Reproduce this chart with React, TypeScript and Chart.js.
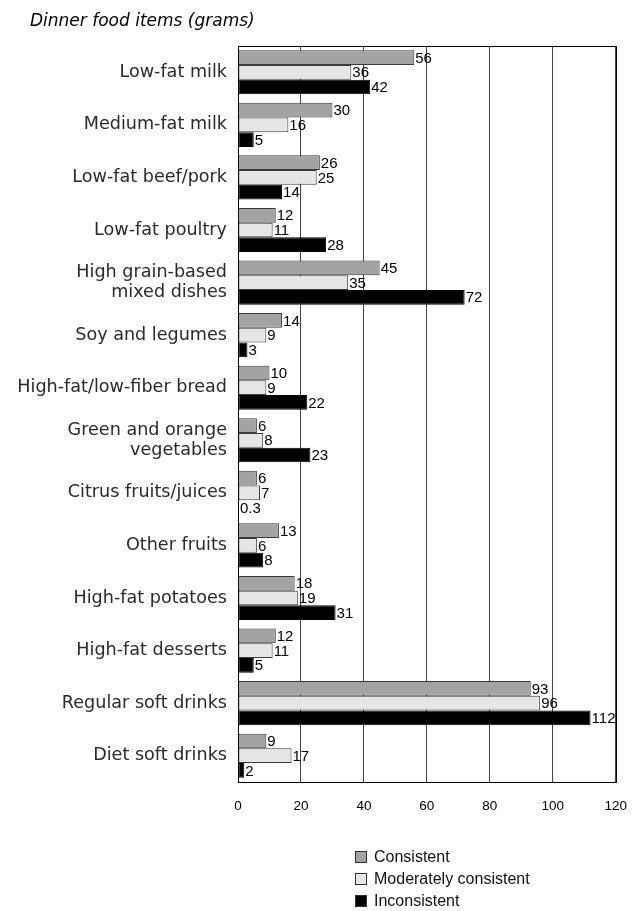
import { useEffect, useRef } from "react";
import { Chart, registerables } from "chart.js";

Chart.register(...registerables);

const title = "Dinner food items (grams)";

const categories: (string | string[])[] = [
  "Low-fat milk",
  "Medium-fat milk",
  "Low-fat beef/pork",
  "Low-fat poultry",
  ["High grain-based", "mixed dishes"],
  "Soy and legumes",
  "High-fat/low-fiber bread",
  ["Green and orange", "vegetables"],
  "Citrus fruits/juices",
  "Other fruits",
  "High-fat potatoes",
  "High-fat desserts",
  "Regular soft drinks",
  "Diet soft drinks",
];

const seriesNames = ["Consistent", "Moderately consistent", "Inconsistent"];
const consistent = [56, 30, 26, 12, 45, 14, 10, 6, 6, 13, 18, 12, 93, 9];
const moderatelyConsistent = [36, 16, 25, 11, 35, 9, 9, 8, 7, 6, 19, 11, 96, 17];
const inconsistent = [42, 5, 14, 28, 72, 3, 22, 23, 0.3, 8, 31, 5, 112, 2];

const xMin = 0;
const xMax = 120;
const xStep = 20;

const fills = ["#a3a3a3", "#e6e6e6", "#000000"];
const edges = ["#3a3a3a", "#3a3a3a", "#000000"];

const NUM_FONT = "'Liberation Sans', Arial, sans-serif";
const LABEL_FONT = "'DejaVu Sans', sans-serif";

// Frame around the plotting area
const framePlugin = {
  id: "frame",
  beforeDatasetsDraw(chart: any) {
    const { ctx, chartArea: a } = chart;
    ctx.save();
    ctx.strokeStyle = "#000";
    ctx.lineWidth = 1;
    ctx.strokeRect(Math.round(a.left) + 0.5, Math.round(a.top) + 0.5, Math.round(a.right - a.left), Math.round(a.bottom - a.top));
    ctx.restore();
  },
};

// Numbers printed at the end of every bar
const valueLabelPlugin = {
  id: "valueLabels",
  afterDatasetsDraw(chart: any) {
    const { ctx } = chart;
    ctx.save();
    ctx.font = `15px ${NUM_FONT}`;
    ctx.fillStyle = "#000";
    ctx.textAlign = "left";
    ctx.textBaseline = "middle";
    chart.data.datasets.forEach((ds: any, di: number) => {
      const meta = chart.getDatasetMeta(di);
      meta.data.forEach((bar: any, i: number) => {
        ctx.fillText(String(ds.data[i]), bar.x + 1, bar.y + 1);
      });
    });
    ctx.restore();
  },
};

// Title above and the stacked key below the plot
const decorPlugin = {
  id: "decor",
  afterDraw(chart: any) {
    const { ctx, chartArea: a } = chart;
    ctx.save();
    ctx.fillStyle = "#000";
    ctx.font = `oblique 17px ${LABEL_FONT}`;
    ctx.textAlign = "left";
    ctx.textBaseline = "middle";
    ctx.fillText(title, 30, 22);

    const keyX = 355;
    const keyTop = a.bottom + 75;
    const rowGap = 22;
    ctx.font = `16px ${NUM_FONT}`;
    seriesNames.forEach((name, i) => {
      const cy = keyTop + i * rowGap;
      ctx.fillStyle = fills[i];
      ctx.fillRect(keyX, cy - 6, 12, 12);
      ctx.strokeStyle = "#333";
      ctx.lineWidth = 1;
      ctx.strokeRect(keyX + 0.5, cy - 5.5, 11, 11);
      ctx.fillStyle = "#111";
      ctx.fillText(name, keyX + 19, cy + 1);
    });
    ctx.restore();
  },
};

export default function App() {
  const canvasRef = useRef<HTMLCanvasElement | null>(null);

  useEffect(() => {
    if (!canvasRef.current) return;
    const values = [consistent, moderatelyConsistent, inconsistent];
    const chart = new Chart(canvasRef.current, {
      type: "bar",
      data: {
        labels: categories as any,
        datasets: seriesNames.map((name, i) => ({
          label: name,
          data: values[i],
          backgroundColor: fills[i],
          borderColor: edges[i],
          borderWidth: 1,
          borderSkipped: false,
          categoryPercentage: 0.84,
          barPercentage: 1,
        })),
      },
      options: {
        indexAxis: "y",
        animation: false,
        responsive: false,
        maintainAspectRatio: false,
        layout: { padding: { top: 46, right: 17, left: 0, bottom: 0 } },
        plugins: {
          legend: { display: false },
          title: { display: false },
          tooltip: { enabled: false },
        },
        scales: {
          x: {
            min: xMin,
            max: xMax,
            ticks: {
              stepSize: xStep,
              padding: 16,
              color: "#000",
              font: { family: NUM_FONT, size: 13.5 },
            },
            grid: {
              color: "#444",
              lineWidth: 1,
              drawTicks: false,
            },
            border: { display: false },
            afterFit(scale: any) {
              scale.height = 129;
            },
          },
          y: {
            ticks: {
              padding: 11,
              color: "#2a2a2a",
              font: { family: LABEL_FONT, size: 17.6, lineHeight: 1.15 },
            },
            grid: { display: false, drawTicks: false },
            border: { display: false },
            afterFit(scale: any) {
              scale.width = 238;
            },
          },
        },
      },
      plugins: [framePlugin, valueLabelPlugin, decorPlugin],
    });
    return () => chart.destroy();
  }, []);

  return (
    <div style={{ position: "fixed", left: 0, top: 0, width: 643, height: 911, background: "#fff" }}>
      <canvas ref={canvasRef} width={643} height={911} style={{ width: 643, height: 911, display: "block" }} />
    </div>
  );
}
